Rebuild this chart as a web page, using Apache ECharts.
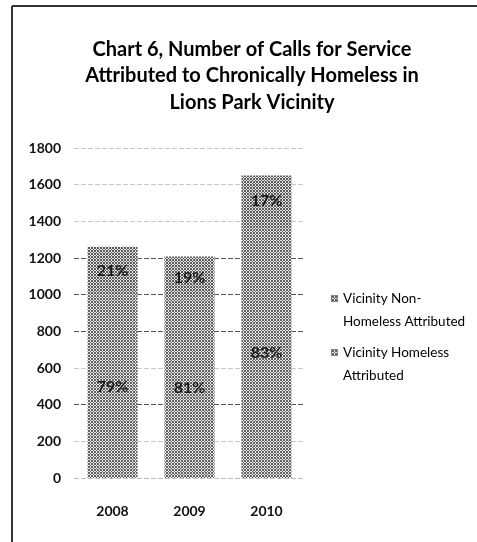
<!DOCTYPE html>
<html>
<head>
<meta charset="utf-8">
<script src="https://cdn.jsdelivr.net/npm/echarts@6/dist/echarts.min.js"></script>
<style>
  html, body { margin: 0; padding: 0; background: #fff; }
  #chart { width: 477px; height: 542px; }
</style>
</head>
<body>
<div id="chart"></div>
<script>
// Calls for service near Lions Park, by year
const years = ['2008', '2009', '2010'];
const totalCalls = [1262, 1208, 1650];
const homelessShare = [79, 81, 83];      // % of calls, lower segment
const nonHomelessShare = [21, 19, 17];   // % of calls, upper segment
const yTicks = [0, 200, 400, 600, 800, 1000, 1200, 1400, 1600, 1800];

const seriesNames = ['Vicinity Non-Homeless Attributed', 'Vicinity Homeless Attributed'];
const legendText = {
  'Vicinity Non-Homeless Attributed': 'Vicinity Non-\nHomeless Attributed',
  'Vicinity Homeless Attributed': 'Vicinity Homeless\nAttributed'
};

const homelessCalls = totalCalls.map((t, i) => t * homelessShare[i] / 100);
const nonHomelessCalls = totalCalls.map((t, i) => t * nonHomelessShare[i] / 100);

// crosshatch tile used to fill both stacks
function drawHatch(g, ox, oy, w, h, dark, light) {
  g.fillStyle = light; g.fillRect(ox, oy, w, h);
  g.fillStyle = dark;
  for (let y = 0; y < h; y++) {
    for (let x = 0; x < w; x++) {
      if ((x + y) % 3 === 0 || ((x - y) % 3 + 3) % 3 === 0) g.fillRect(ox + x, oy + y, 1, 1);
    }
  }
}
function makePattern(dark, light) {
  const c = document.createElement('canvas');
  c.width = 6; c.height = 6;
  drawHatch(c.getContext('2d'), 0, 0, 6, 6, dark, light);
  return { image: c, repeat: 'repeat' };
}
// legend swatch sits beside the first of two text lines
function makeLegendIcon(dark, light) {
  const c = document.createElement('canvas');
  c.width = 7; c.height = 44;
  const g = c.getContext('2d');
  g.clearRect(0, 0, 7, 44);
  drawHatch(g, 0, 7, 7, 7, dark, light);
  g.strokeStyle = '#888'; g.lineWidth = 1;
  g.strokeRect(0.5, 7.5, 6, 6);
  return 'image://' + c.toDataURL();
}
const DARK_A = '#5c5c5c', LIGHT_A = '#e2e2e2';
const DARK_B = '#626262', LIGHT_B = '#e6e6e6';
const fillA = makePattern(DARK_A, LIGHT_A);
const fillB = makePattern(DARK_B, LIGHT_B);

const FONT = 'Lato';

const chart = echarts.init(document.getElementById('chart'), null, { renderer: 'canvas' });

const gridColors = ['#bdbdbd', '#c8c8c8', '#555555', '#c8c8c8', '#555555', '#555555', '#555555', '#c8c8c8', '#c8c8c8', '#c8c8c8'];

chart.setOption({
  backgroundColor: '#ffffff',
  animation: false,
  title: {
    text: 'Chart 6, Number of Calls for Service\nAttributed to Chronically Homeless in\nLions Park Vicinity',
    left: 247,
    top: 31,
    textAlign: 'center',
    textStyle: {
      fontFamily: FONT,
      fontWeight: 'bold',
      fontSize: 20,
      lineHeight: 26.5,
      color: '#000'
    }
  },
  legend: {
    orient: 'vertical',
    left: 326,
    top: 282,
    itemWidth: 7,
    itemHeight: 44,
    itemGap: 8,
    data: [
      { name: seriesNames[0], icon: makeLegendIcon(DARK_A, LIGHT_A) },
      { name: seriesNames[1], icon: makeLegendIcon(DARK_B, LIGHT_B) }
    ],
    formatter: name => legendText[name],
    textStyle: {
      fontFamily: FONT,
      fontSize: 13.5,
      lineHeight: 23,
      color: '#000'
    }
  },
  grid: {
    left: 74,
    right: 172,
    top: 148,
    bottom: 64,
    containLabel: false
  },
  xAxis: {
    type: 'category',
    data: years,
    axisLine: { show: false },
    axisTick: { show: false },
    axisLabel: {
      margin: 26,
      fontFamily: FONT,
      fontSize: 14,
      fontWeight: 'bold',
      color: '#111'
    }
  },
  yAxis: {
    type: 'value',
    min: 0,
    max: 1800,
    interval: 200,
    axisLine: { show: false },
    axisTick: { show: false },
    axisLabel: {
      margin: 13,
      fontFamily: FONT,
      fontSize: 14,
      fontWeight: 'bold',
      color: '#111',
      formatter: v => yTicks.includes(v) ? String(v) : ''
    },
    splitLine: {
      show: true,
      lineStyle: { color: gridColors, width: 1, type: [5, 2] }
    }
  },
  series: [
    {
      name: 'Vicinity Homeless Attributed',
      type: 'bar',
      stack: 'calls',
      barWidth: '65%',
      data: homelessCalls,
      itemStyle: { color: fillB },
      label: {
        show: true,
        position: 'inside',
        fontFamily: FONT,
        fontSize: 16,
        fontWeight: 'bold',
        color: '#1a1a1a',
        formatter: p => homelessShare[p.dataIndex] + '%'
      }
    },
    {
      name: 'Vicinity Non-Homeless Attributed',
      type: 'bar',
      stack: 'calls',
      barWidth: '65%',
      data: nonHomelessCalls,
      itemStyle: { color: fillA },
      label: {
        show: true,
        position: 'inside',
        fontFamily: FONT,
        fontSize: 16,
        fontWeight: 'bold',
        color: '#1a1a1a',
        formatter: p => nonHomelessShare[p.dataIndex] + '%'
      }
    }
  ],
  graphic: [
    { type: 'line', shape: { x1: 12, y1: 6, x2: 477, y2: 6 }, style: { stroke: '#333', lineWidth: 2 } },
    { type: 'line', shape: { x1: 12, y1: 6, x2: 12, y2: 542 }, style: { stroke: '#333', lineWidth: 2 } }
  ]
});
</script>
</body>
</html>
